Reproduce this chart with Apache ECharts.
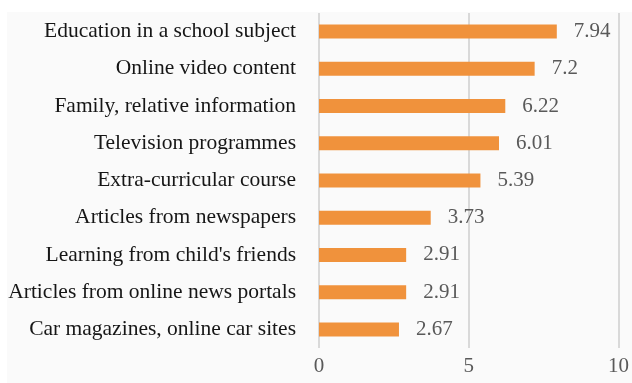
<!DOCTYPE html>
<html>
<head>
<meta charset="utf-8">
<script src="https://cdn.jsdelivr.net/npm/echarts@6/dist/echarts.min.js"></script>
<style>
  html, body { margin: 0; padding: 0; background: #ffffff; }
  #chart { width: 632px; height: 383px; }
</style>
</head>
<body>
<div id="chart"></div>
<script>
// Sources of information, bottom to top as drawn on the category axis
const categories = [
  "Car magazines, online car sites",
  "Articles from online news portals",
  "Learning from child's friends",
  "Articles from newspapers",
  "Extra-curricular course",
  "Television programmes",
  "Family, relative information",
  "Online video content",
  "Education in a school subject"
];
const values = [2.67, 2.91, 2.91, 3.73, 5.39, 6.01, 6.22, 7.2, 7.94];
const valueTicks = [0, 5, 10];

const chart = echarts.init(document.getElementById('chart'), null, { renderer: 'canvas' });
const serif = '"Liberation Serif", "Times New Roman", serif';

chart.setOption({
  animation: false,
  backgroundColor: '#ffffff',
  graphic: [{
    type: 'rect',
    z: -10,
    silent: true,
    shape: { x: 7, y: 12, width: 625, height: 371 },
    style: { fill: '#fafafa' }
  }],
  grid: { left: 319, right: 11, top: 13, bottom: 35, containLabel: false },
  xAxis: {
    type: 'value',
    min: valueTicks[0],
    max: valueTicks[valueTicks.length - 1],
    interval: 5,
    axisLine: { show: false },
    axisTick: { show: false },
    splitLine: { show: true, lineStyle: { color: '#d9d9d9', width: 2 } },
    axisLabel: { color: '#595959', fontFamily: serif, fontSize: 21, margin: 8 }
  },
  yAxis: {
    type: 'category',
    data: categories,
    axisLine: { show: false },
    axisTick: { show: false },
    axisLabel: { color: '#161616', fontFamily: serif, fontSize: 21.5, margin: 23 }
  },
  series: [{
    type: 'bar',
    data: values,
    barWidth: 14,
    itemStyle: { color: '#f0923c' },
    label: {
      show: true,
      position: 'right',
      distance: 17,
      color: '#595959',
      fontFamily: serif,
      fontSize: 21
    }
  }]
});
</script>
</body>
</html>
